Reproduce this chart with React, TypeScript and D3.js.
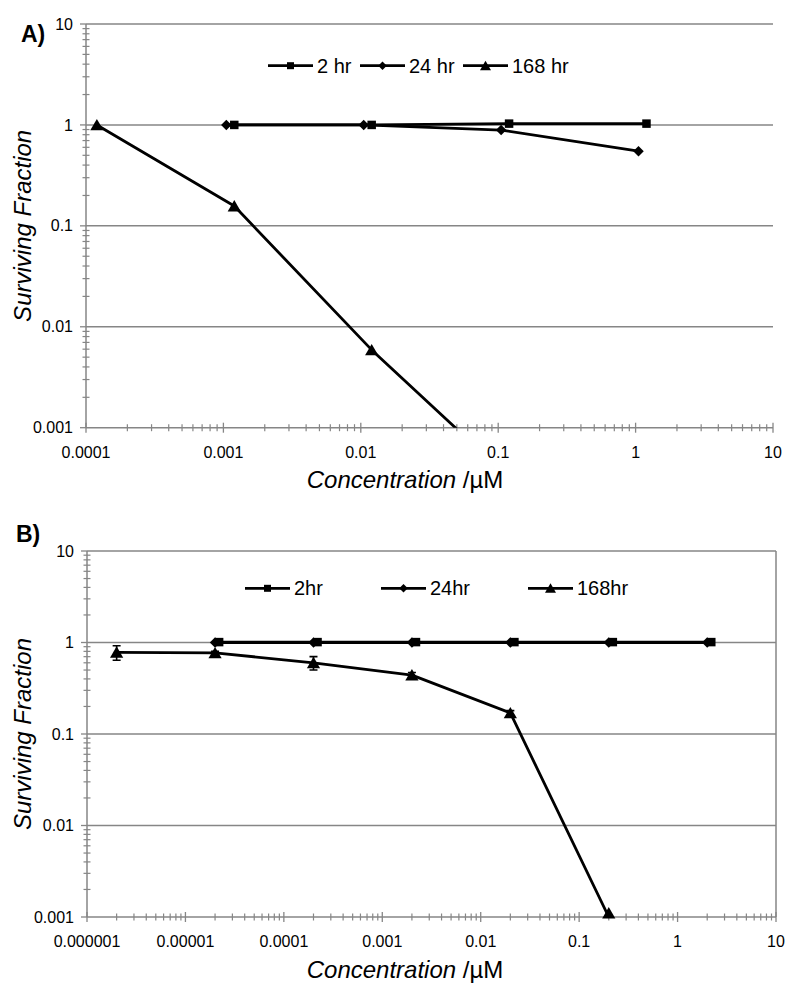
import React, { useEffect, useRef } from "react";
import * as d3 from "d3";

// Panel A data (concentration in µM, surviving fraction)
const seriesNamesA = ["2 hr", "24 hr", "168 hr"];
const concA2 = [0.0012, 0.012, 0.12, 1.2];
const survA2 = [1.0, 1.0, 1.03, 1.03];
const concA24 = [0.00105, 0.0105, 0.105, 1.05];
const survA24 = [1.0, 1.0, 0.89, 0.55];
const concA168 = [0.00012, 0.0012, 0.012, 0.12];
const survA168 = [1.0, 0.157, 0.0059, 0.00032];

// Panel B data
const seriesNamesB = ["2hr", "24hr", "168hr"];
const concB2 = [2.2e-5, 2.2e-4, 2.2e-3, 2.2e-2, 0.22, 2.2];
const survB2 = [1.01, 1.01, 1.01, 1.01, 1.01, 1.01];
const concB24 = [2e-5, 2e-4, 2e-3, 2e-2, 0.2, 2];
const survB24 = [1.0, 1.0, 1.0, 1.0, 1.0, 1.0];
const concB168 = [2e-6, 2e-5, 2e-4, 2e-3, 2e-2, 0.2];
const survB168 = [0.78, 0.77, 0.6, 0.44, 0.17, 0.001];
const errB168 = [0.14, 0.03, 0.1, 0.03, 0.01, 0];

// tick labels
const yTickLabels = ["0.001", "0.01", "0.1", "1", "10"];
const xTickLabelsA = ["0.0001", "0.001", "0.01", "0.1", "1", "10"];
const xTickLabelsB = ["0.000001", "0.00001", "0.0001", "0.001", "0.01", "0.1", "1", "10"];

const markerTypes = ["square", "diamond", "triangle"];

const markerPath = (type, s) => {
  if (type === "square") return `M${-s / 2},${-s / 2}h${s}v${s}h${-s}Z`;
  if (type === "diamond") return `M0,${-s / 2}L${s / 2},0L0,${s / 2}L${-s / 2},0Z`;
  return `M0,${-s * 0.5}L${s * 0.55},${s * 0.45}L${-s * 0.55},${s * 0.45}Z`;
};

const gray = "#868686";
const font = "'Liberation Sans', Arial, sans-serif";

function drawPanel(svg, cfg) {
  const { left, right, top, bottom, xTicks, series, legend, label, labelPos, box, id } = cfg;
  const xDomain = [+xTicks[0], +xTicks[xTicks.length - 1]];
  const x = d3.scaleLog().domain(xDomain).range([left, right]);
  const y = d3.scaleLog().domain([0.001, 10]).range([bottom, top]);
  const g = svg.append("g");

  g.append("clipPath")
    .attr("id", id)
    .append("rect")
    .attr("x", left)
    .attr("y", top - 6)
    .attr("width", right - left)
    .attr("height", bottom - top + 6);

  // gridlines
  yTickLabels.slice(1).forEach((t) => {
    g.append("line")
      .attr("x1", left).attr("x2", right)
      .attr("y1", y(+t)).attr("y2", y(+t))
      .attr("stroke", gray).attr("stroke-width", 1.5);
  });
  if (box) {
    g.append("line")
      .attr("x1", right).attr("x2", right)
      .attr("y1", top).attr("y2", bottom)
      .attr("stroke", gray).attr("stroke-width", 1.5);
  }

  // y axis
  g.append("line")
    .attr("x1", left).attr("x2", left)
    .attr("y1", top).attr("y2", bottom)
    .attr("stroke", gray).attr("stroke-width", 1.5);
  yTickLabels.forEach((t, i) => {
    const v = +t;
    g.append("line")
      .attr("x1", left - 6).attr("x2", left)
      .attr("y1", y(v)).attr("y2", y(v))
      .attr("stroke", gray).attr("stroke-width", 1.3);
    g.append("text")
      .attr("x", left - 13).attr("y", y(v))
      .attr("dy", "0.35em")
      .attr("text-anchor", "end")
      .attr("font-family", font).attr("font-size", 16)
      .text(t);
    if (i < yTickLabels.length - 1) {
      for (let k = 2; k <= 9; k++) {
        g.append("line")
          .attr("x1", left - 3.5).attr("x2", left + 3.5)
          .attr("y1", y(v * k)).attr("y2", y(v * k))
          .attr("stroke", gray).attr("stroke-width", 1.2);
      }
    }
  });

  // x axis
  g.append("line")
    .attr("x1", left).attr("x2", right)
    .attr("y1", bottom).attr("y2", bottom)
    .attr("stroke", gray).attr("stroke-width", 1.5);
  xTicks.forEach((t, i) => {
    const v = +t;
    g.append("line")
      .attr("x1", x(v)).attr("x2", x(v))
      .attr("y1", bottom - 5).attr("y2", bottom + 5)
      .attr("stroke", gray).attr("stroke-width", 1.3);
    g.append("text")
      .attr("x", x(v)).attr("y", bottom + 30)
      .attr("text-anchor", "middle")
      .attr("font-family", font).attr("font-size", 16)
      .text(t);
    if (i < xTicks.length - 1) {
      for (let k = 2; k <= 9; k++) {
        g.append("line")
          .attr("x1", x(v * k)).attr("x2", x(v * k))
          .attr("y1", bottom - 3.5).attr("y2", bottom + 3.5)
          .attr("stroke", gray).attr("stroke-width", 1.2);
      }
    }
  });

  // series
  const line = d3.line().x((d) => x(d[0])).y((d) => y(d[1]));
  series.forEach((s, si) => {
    const pts = s.conc.map((c, i) => [c, s.surv[i], s.err ? s.err[i] : 0]);
    g.append("path")
      .attr("d", line(pts))
      .attr("fill", "none")
      .attr("stroke", "#000")
      .attr("stroke-width", 2.8)
      .attr("stroke-linejoin", "round")
      .attr("clip-path", `url(#${id})`);
    const visible = pts.filter((d) => d[1] >= 0.001 && d[1] <= 10);
    visible.forEach((d) => {
      if (d[2] > 0) {
        const y1 = y(d[1] + d[2]), y0 = y(Math.max(d[1] - d[2], 0.001));
        g.append("path")
          .attr("d", `M${x(d[0]) - 4},${y1}h8M${x(d[0])},${y1}V${y0}M${x(d[0]) - 4},${y0}h8`)
          .attr("stroke", "#000").attr("stroke-width", 1.6).attr("fill", "none");
      }
    });
    const size = markerTypes[si] === "square" ? 8.5 : markerTypes[si] === "diamond" ? 10.5 : 12;
    g.append("g")
      .selectAll("path")
      .data(visible)
      .enter()
      .append("path")
      .attr("d", markerPath(markerTypes[si], size))
      .attr("transform", (d) => `translate(${x(d[0])},${y(d[1]) - (markerTypes[si] === "triangle" && d[1] <= 0.001 ? 4 : 0)})`)
      .attr("fill", "#000");
  });

  // legend
  legend.items.forEach((name, i) => {
    const lx = legend.xs[i], ly = legend.y;
    g.append("line")
      .attr("x1", lx).attr("x2", lx + 45)
      .attr("y1", ly).attr("y2", ly)
      .attr("stroke", "#000").attr("stroke-width", 2.8);
    const sz = markerTypes[i] === "square" ? 7 : markerTypes[i] === "diamond" ? 8.5 : 10;
    g.append("path")
      .attr("d", markerPath(markerTypes[i], sz))
      .attr("transform", `translate(${lx + 22.5},${ly})`)
      .attr("fill", "#000");
    g.append("text")
      .attr("x", lx + 49).attr("y", ly)
      .attr("dy", "0.35em")
      .attr("font-family", font).attr("font-size", 20)
      .text(name);
  });

  // panel label
  g.append("text")
    .attr("x", labelPos[0]).attr("y", labelPos[1])
    .attr("font-family", font).attr("font-size", 23).attr("font-weight", "bold")
    .text(label);

  // axis titles
  g.append("text")
    .attr("transform", `translate(31,${(top + bottom) / 2}) rotate(-90)`)
    .attr("text-anchor", "middle")
    .attr("font-family", font).attr("font-size", 24).attr("font-style", "italic")
    .text("Surviving Fraction");
  const xt = g.append("text")
    .attr("x", 405).attr("y", bottom + 60.5)
    .attr("text-anchor", "middle")
    .attr("font-family", font).attr("font-size", 24);
  xt.append("tspan").attr("font-style", "italic").text("Concentration");
  xt.append("tspan").text(" /µM");
}

export default function App() {
  const svgRef = useRef(null);

  useEffect(() => {
    const svg = d3.select(svgRef.current);
    svg.selectAll("*").remove();

    drawPanel(svg, {
      id: "clipA",
      left: 86, right: 773, top: 24, bottom: 427.7,
      xTicks: xTickLabelsA,
      box: false,
      label: "A)", labelPos: [21, 41.5],
      legend: { items: seriesNamesA, xs: [268, 360, 463], y: 65.7 },
      series: [
        { conc: concA2, surv: survA2 },
        { conc: concA24, surv: survA24 },
        { conc: concA168, surv: survA168 },
      ],
    });

    drawPanel(svg, {
      id: "clipB",
      left: 87, right: 776, top: 551, bottom: 917,
      xTicks: xTickLabelsB,
      box: true,
      label: "B)", labelPos: [16, 541.5],
      legend: { items: seriesNamesB, xs: [245, 381, 528], y: 588.3 },
      series: [
        { conc: concB2, surv: survB2 },
        { conc: concB24, surv: survB24 },
        { conc: concB168, surv: survB168, err: errB168 },
      ],
    });
  }, []);

  return (
    <svg
      ref={svgRef}
      width={788}
      height={988}
      style={{ position: "absolute", left: 0, top: 0, background: "#fff" }}
    />
  );
}
